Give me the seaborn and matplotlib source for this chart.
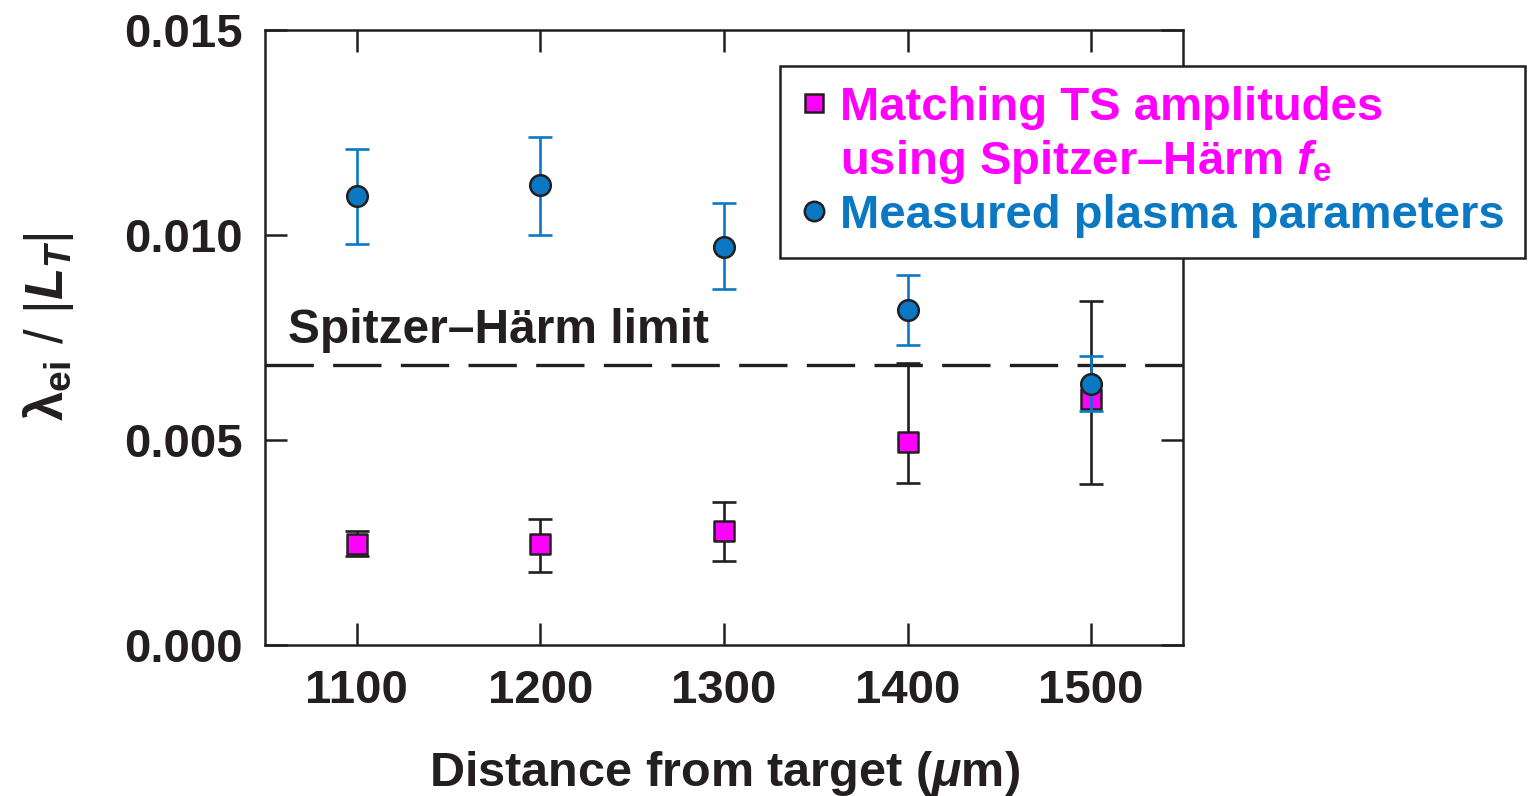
import matplotlib
matplotlib.use("Agg")
import matplotlib.pyplot as plt
from matplotlib.lines import Line2D
import numpy as np
import pandas as pd
import seaborn as sns

# Distance from target (um)
distance = [1100, 1200, 1300, 1400, 1500]

# Measured plasma parameters: value and error-bar bounds
measured = [0.01095, 0.01121, 0.00970, 0.00816, 0.00637]
measured_lo = [0.00977, 0.00999, 0.00868, 0.00732, 0.00570]
measured_hi = [0.01210, 0.01240, 0.01078, 0.00903, 0.00706]

# Matching TS amplitudes using Spitzer-Harm f_e
matching = [0.00247, 0.00247, 0.00277, 0.00496, 0.00599]
matching_lo = [0.00216, 0.00179, 0.00206, 0.00396, 0.00392]
matching_hi = [0.00279, 0.00307, 0.00348, 0.00688, 0.00840]

sh_limit = 0.00682

x_ticks = [1100, 1200, 1300, 1400, 1500]
y_ticks = [0.000, 0.005, 0.010, 0.015]
y_ticklabels = ["0.000", "0.005", "0.010", "0.015"]

INK = "#231f20"
MAGENTA = "#ff00ff"
BLUE = "#0a78c2"

sns.set_theme(style="ticks")
plt.rcParams.update({
    "font.family": ["Liberation Sans", "DejaVu Sans"],
    "mathtext.fontset": "custom",
    "mathtext.rm": "Liberation Sans:weight=normal",
    "mathtext.it": "Liberation Sans:italic:bold",
    "mathtext.bf": "Liberation Sans:bold",
    "mathtext.sf": "Liberation Sans:weight=normal",
    "axes.edgecolor": INK,
    "text.color": INK,
})

df_m = pd.DataFrame({"distance": distance, "value": measured})
df_t = pd.DataFrame({"distance": distance, "value": matching})

fig = plt.figure(figsize=(15.37, 7.96), dpi=100)
ax = fig.add_axes([265 / 1537, 1 - 645 / 796, (1183 - 265) / 1537, (645 - 30) / 796])

# Spitzer-Harm limit
ax.axhline(sh_limit, color=INK, lw=2.4, dashes=(14.5, 5.8), zorder=1)
ax.text(1062.5, sh_limit + 0.00054, "Spitzer\u2013H\u00e4rm limit", fontsize=34.5,
        fontweight="bold", color=INK, ha="left", va="baseline")

# Matching TS amplitudes (squares, black error bars)
t_err = [np.array(matching) - np.array(matching_lo), np.array(matching_hi) - np.array(matching)]
ax.errorbar(distance, matching, yerr=t_err, fmt="none", ecolor=INK,
            elinewidth=1.9, capsize=8.5, capthick=1.9, zorder=2)
sns.scatterplot(data=df_t, x="distance", y="value", marker="s", s=190,
                color=MAGENTA, edgecolor=INK, linewidth=1.8, ax=ax, zorder=3)

# Measured plasma parameters (circles, blue error bars)
m_err = [np.array(measured) - np.array(measured_lo), np.array(measured_hi) - np.array(measured)]
ax.errorbar(distance, measured, yerr=m_err, fmt="none", ecolor=BLUE,
            elinewidth=1.9, capsize=8.5, capthick=1.9, zorder=4)
sns.scatterplot(data=df_m, x="distance", y="value", marker="o", s=220,
                color=BLUE, edgecolor=INK, linewidth=1.8, ax=ax, zorder=5)

ax.set_xlim(1050, 1550)
ax.set_ylim(0.0, 0.015)
ax.set_xticks(x_ticks)
ax.set_xticklabels([str(v) for v in x_ticks])
ax.set_yticks(y_ticks)
ax.set_yticklabels(y_ticklabels)
ax.tick_params(direction="in", length=16, width=1.8, color=INK,
               top=True, right=True, labelsize=34, labelcolor=INK)
ax.tick_params(axis="y", pad=16)
ax.tick_params(axis="x", pad=17)
for lab in ax.get_xticklabels() + ax.get_yticklabels():
    lab.set_fontweight("bold")
for sp in ax.spines.values():
    sp.set_linewidth(1.8)
    sp.set_color(INK)

ax.set_xlabel(r"Distance from target ($\mu$m)", fontsize=35, fontweight="bold",
              color=INK, labelpad=26)
ax.set_ylabel(r"$\mathbf{\lambda}_{\mathbf{ei}}\ /\ |L_T|$", fontsize=38, color=INK)
ax.yaxis.set_label_coords(-0.206, 0.517)

handles = [
    Line2D([], [], marker="s", linestyle="none", markersize=13,
           markerfacecolor=MAGENTA, markeredgecolor=INK, markeredgewidth=1.8),
    Line2D([], [], linestyle="none"),
    Line2D([], [], marker="o", linestyle="none", markersize=14,
           markerfacecolor=BLUE, markeredgecolor=INK, markeredgewidth=1.8),
]
labels = ["Matching TS amplitudes",
          "using Spitzer\u2013H\u00e4rm $f_{\\mathbf{e}}$",
          "Measured plasma parameters"]
leg = fig.legend(handles, labels, loc="upper left",
                 bbox_to_anchor=(780 / 1537, 1 - 66 / 796),
                 frameon=True, fancybox=False, edgecolor=INK, framealpha=1,
                 prop={"weight": "bold", "size": 34},
                 handlelength=0.6, handletextpad=0.25, borderpad=0.42,
                 labelspacing=0.17, borderaxespad=0)
leg.get_frame().set_linewidth(1.8)
for txt, col in zip(leg.get_texts(), [MAGENTA, MAGENTA, BLUE]):
    txt.set_color(col)

fig.savefig("out.png", dpi=100)
